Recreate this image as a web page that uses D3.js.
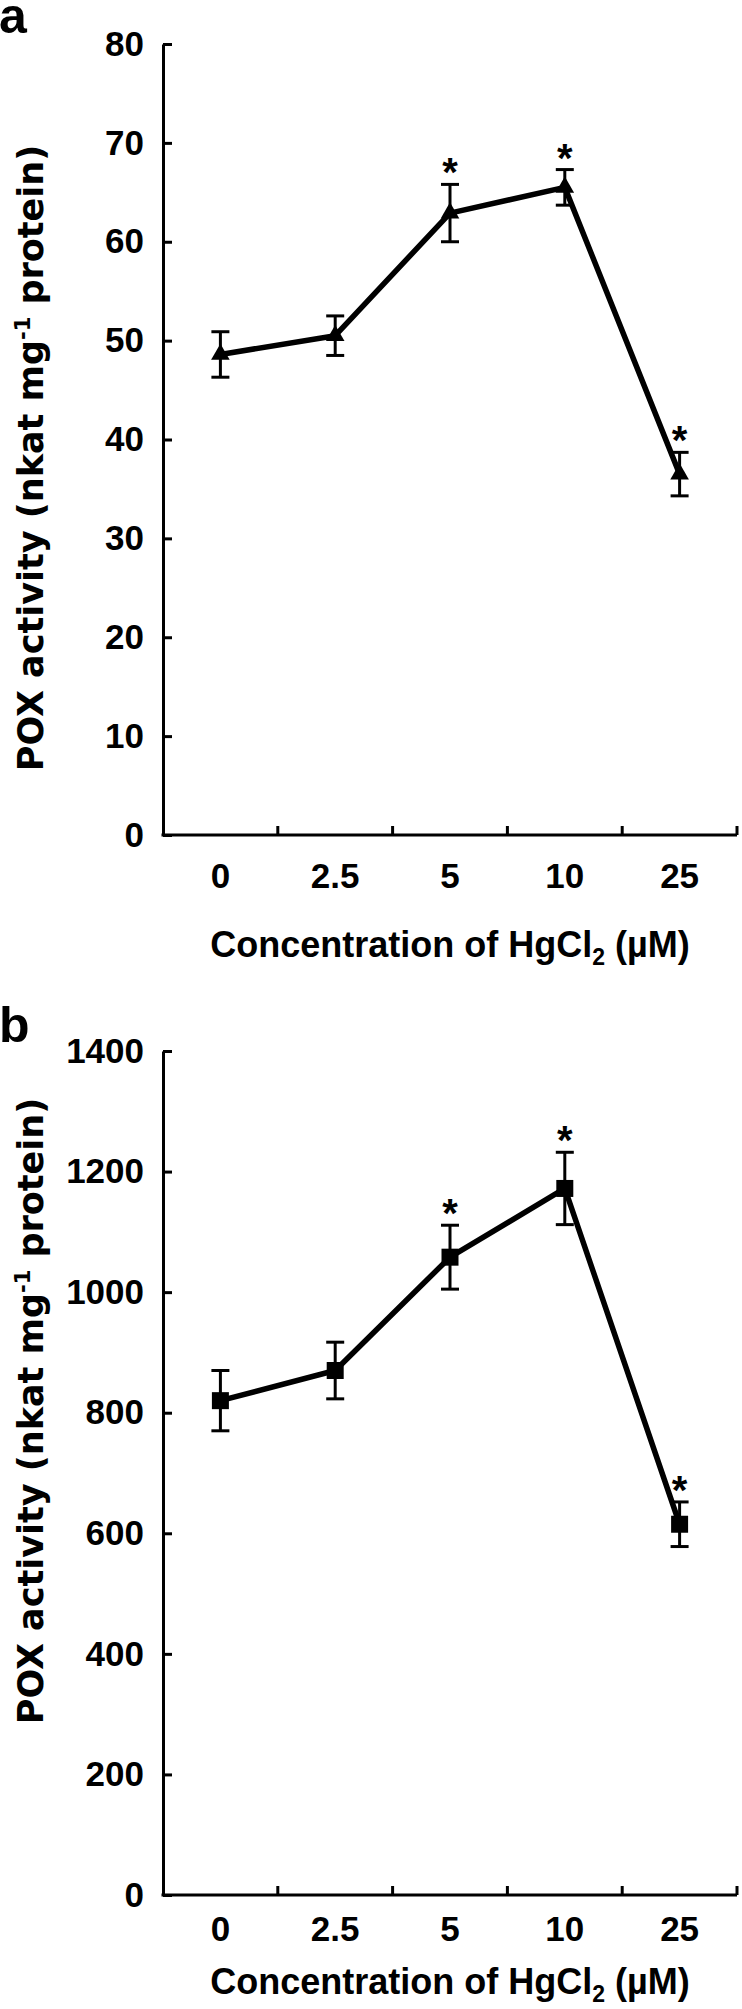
<!DOCTYPE html>
<html>
<head>
<meta charset="utf-8">
<script src="https://cdn.jsdelivr.net/npm/d3@7"></script>
<style>
  body { margin: 0; background: #fff; }
  svg { display: block; }
  .tick text { font-family: "Liberation Sans", Arial, sans-serif; font-weight: bold; font-size: 35px; fill: #000; }
  .ytitle { font-family: "DejaVu Sans", Verdana, sans-serif; font-weight: bold; font-size: 35px; }
  .xtitle { font-family: "Liberation Sans", Arial, sans-serif; font-weight: bold; font-size: 36px; }
  .letter { font-family: "Liberation Sans", Arial, sans-serif; font-weight: bold; font-size: 50px; }
  .star { font-family: "Liberation Sans", Arial, sans-serif; font-weight: bold; font-size: 40px; }
</style>
</head>
<body>
<svg id="chart" width="742" height="2009"></svg>
<script>
// concentrations of HgCl2 (uM)
const concentrations = ["0", "2.5", "5", "10", "25"];

// panel a
const poxA = [48.6, 50.5, 62.9, 65.5, 36.5];
const errA = [2.3, 2.0, 2.9, 1.8, 2.2];
const sigA = [false, false, true, true, true];
const ticksA = [0, 10, 20, 30, 40, 50, 60, 70, 80];

// panel b
const poxB = [820, 870, 1058, 1172, 615];
const errB = [50, 47, 53, 60, 37];
const sigB = [false, false, true, true, true];
const ticksB = [0, 200, 400, 600, 800, 1000, 1200, 1400];

const svg = d3.select('#chart');
const left = 163, right = 737;

drawPanel = (p) => {
    const g = svg.append('g');

    const x = d3.scaleBand().domain(concentrations).range([left, right]).padding(0);
    const y = d3.scaleLinear().domain([0, p.ticks[p.ticks.length - 1]]).range([p.bottom, p.top]);

    // y axis, ticks pointing inward
    const yAxis = g.append('g')
        .attr('transform', `translate(${left},0)`)
        .call(d3.axisLeft(y).tickValues(p.ticks).tickFormat(d3.format('d'))
            .tickSizeInner(-9).tickSizeOuter(0).tickPadding(19));
    yAxis.select('.domain').attr('stroke-width', 3);
    yAxis.selectAll('.tick line').attr('stroke-width', 3);

    // x axis: labels in band centres, ticks on band edges
    const xAxis = g.append('g')
        .attr('transform', `translate(0,${p.bottom})`)
        .call(d3.axisBottom(x).tickSize(0).tickPadding(p.labelPad));
    xAxis.select('.domain').attr('stroke-width', 3).attr('d', `M${left - 1.5},0H${right}`);
    xAxis.selectAll('.edge')
        .data(concentrations)
        .enter()
        .append('line')
        .attr('x1', d => x(d) + x.bandwidth())
        .attr('x2', d => x(d) + x.bandwidth())
        .attr('y1', 0)
        .attr('y2', -9)
        .attr('stroke', '#000')
        .attr('stroke-width', 3);

    const pts = concentrations.map((c, i) => ({ c: c, v: p.values[i], e: p.errs[i], s: p.sig[i] }));
    const cx = d => x(d.c) + x.bandwidth() / 2;

    // error bars
    const eb = g.append('g').attr('stroke', '#000').attr('stroke-width', 3);
    eb.selectAll('line.v')
        .data(pts).enter().append('line').classed('v', true)
        .attr('x1', cx).attr('x2', cx)
        .attr('y1', d => y(d.v + d.e)).attr('y2', d => y(d.v - d.e));
    eb.selectAll('line.hi')
        .data(pts).enter().append('line').classed('hi', true)
        .attr('x1', d => cx(d) - 9).attr('x2', d => cx(d) + 9)
        .attr('y1', d => y(d.v + d.e)).attr('y2', d => y(d.v + d.e));
    eb.selectAll('line.lo')
        .data(pts).enter().append('line').classed('lo', true)
        .attr('x1', d => cx(d) - 9).attr('x2', d => cx(d) + 9)
        .attr('y1', d => y(d.v - d.e)).attr('y2', d => y(d.v - d.e));

    // line
    g.append('path')
        .datum(pts)
        .attr('fill', 'none')
        .attr('stroke', '#000')
        .attr('stroke-width', 5.5)
        .attr('stroke-linejoin', 'round')
        .attr('d', d3.line().x(cx).y(d => y(d.v)));

    // markers
    g.selectAll('path.mk')
        .data(pts).enter().append('path').classed('mk', true)
        .attr('transform', d => `translate(${cx(d)},${y(d.v)})`)
        .attr('d', d3.symbol().type(p.symbol).size(p.symbolSize))
        .attr('fill', '#000');

    // significance stars
    g.selectAll('text.star')
        .data(pts.filter(d => d.s)).enter().append('text').classed('star', true)
        .attr('x', cx)
        .attr('y', d => y(d.v + d.e) + 2)
        .attr('text-anchor', 'middle')
        .text('*');

    // axis titles
    const yt = g.append('text')
        .classed('ytitle', true)
        .attr('transform', `translate(43,${p.titleY}) rotate(-90)`)
        .attr('text-anchor', 'middle');
    yt.append('tspan').text('POX activity (nkat mg');
    yt.append('tspan').attr('dy', -13).attr('font-size', 21).text('-1');
    yt.append('tspan').attr('dy', 13).text(' protein)');

    const xt = g.append('text')
        .classed('xtitle', true)
        .attr('x', (left + right) / 2)
        .attr('y', p.bottom + p.titleOffset)
        .attr('text-anchor', 'middle');
    xt.append('tspan').text('Concentration of HgCl');
    xt.append('tspan').attr('dy', 8).attr('font-size', 23).text('2');
    xt.append('tspan').attr('dy', -8).text(' (\u00b5M)');

    // panel letter
    g.append('text')
        .classed('letter', true)
        .attr('x', -1)
        .attr('y', p.letterY)
        .text(p.letter);
};

drawPanel({
    top: 44, bottom: 835, ticks: ticksA,
    values: poxA, errs: errA, sig: sigA,
    symbol: d3.symbolTriangle, symbolSize: 150,
    letter: 'a', letterY: 33, titleY: 458,
    labelPad: 28, titleOffset: 122
});

drawPanel({
    top: 1051, bottom: 1895, ticks: ticksB,
    values: poxB, errs: errB, sig: sigB,
    symbol: d3.symbolSquare, symbolSize: 289,
    letter: 'b', letterY: 1042, titleY: 1411,
    labelPad: 21, titleOffset: 99
});
</script>
</body>
</html>
